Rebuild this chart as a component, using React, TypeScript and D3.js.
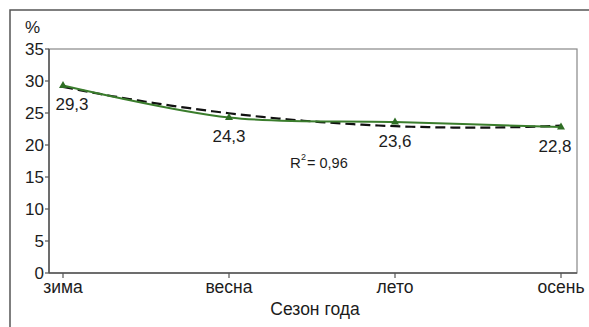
import React from "react";
import * as d3 from "d3";

const seasons = ["зима", "весна", "лето", "осень"];
const values = [29.3, 24.3, 23.6, 22.8];
const yTicks = [0, 5, 10, 15, 20, 25, 30, 35];
const valueLabels = ["29,3", "24,3", "23,6", "22,8"];

// quadratic least-squares trend computed from the data
function quadFit(ys: number[]) {
  const xs = ys.map((_, i) => i + 1);
  const s = [0, 0, 0, 0, 0];
  const t = [0, 0, 0];
  xs.forEach((x, i) => {
    for (let k = 0; k < 5; k++) s[k] += Math.pow(x, k);
    for (let k = 0; k < 3; k++) t[k] += Math.pow(x, k) * ys[i];
  });
  const A = [
    [s[0], s[1], s[2], t[0]],
    [s[1], s[2], s[3], t[1]],
    [s[2], s[3], s[4], t[2]],
  ];
  for (let i = 0; i < 3; i++) {
    for (let j = i + 1; j < 3; j++) {
      const f = A[j][i] / A[i][i];
      for (let k = i; k < 4; k++) A[j][k] -= f * A[i][k];
    }
  }
  const c = [0, 0, 0];
  for (let i = 2; i >= 0; i--) {
    let v = A[i][3];
    for (let k = i + 1; k < 3; k++) v -= A[i][k] * c[k];
    c[i] = v / A[i][i];
  }
  return (x: number) => c[0] + c[1] * x + c[2] * x * x;
}

export default function App() {
  const W = 589, H = 327;
  const left = 49, right = 577, top = 49, bottom = 273;
  const x0 = 63, x1 = 561;
  const x = d3.scaleLinear().domain([1, seasons.length]).range([x0, x1]);
  const y = d3.scaleLinear().domain([0, 35]).range([bottom, top]);
  const pts: [number, number][] = values.map((v, i) => [x(i + 1), y(v)]);
  const line = d3.line().curve(d3.curveCatmullRom.alpha(0.5));
  const trend = quadFit(values);
  const trendPts: [number, number][] = d3.range(1, seasons.length + 0.001, 0.05).map((t) => [x(t), y(trend(t))]);
  const trendLine = d3.line();
  const font = "Arial, 'Liberation Sans', sans-serif";
  const tri = (cx: number, cy: number) => `M${cx},${cy - 4.5}L${cx + 4},${cy + 2.5}L${cx - 4},${cy + 2.5}Z`;
  const labelHalf = 16;
  const tc = "#1c1c1c";
  return (
    <svg width={W} height={H} style={{ position: "absolute", left: 0, top: 0, background: "#fff" }} fontFamily={font}>
      <rect x={0} y={0} width={W} height={H} fill="#fff" />
      <rect x={10} y={10} width={W} height={H} fill="none" stroke="#555" strokeWidth={1.5} />
      <rect x={left} y={top} width={right - left} height={bottom - top} fill="none" stroke="#888" strokeWidth={1.2} />
      <line x1={left} x2={left} y1={top} y2={bottom} stroke="#555" strokeWidth={1.5} />
      <line x1={left} x2={right} y1={bottom} y2={bottom} stroke="#555" strokeWidth={1.5} />
      {yTicks.map((t) => (
        <g key={t}>
          <line x1={left - 4} x2={left} y1={y(t)} y2={y(t)} stroke="#555" strokeWidth={1.2} />
          <text x={44} y={y(t) + 6} textAnchor="end" fontSize={17} fill={tc}>{t}</text>
        </g>
      ))}
      <text x={25} y={33} fontSize={17} fill={tc}>%</text>
      {seasons.map((s, i) => (
        <g key={s}>
          <line x1={x(i + 1)} x2={x(i + 1)} y1={bottom} y2={bottom + 5} stroke="#555" strokeWidth={1.2} />
          <text x={x(i + 1)} y={293} textAnchor="middle" fontSize={17.5} fill={tc}>{s}</text>
        </g>
      ))}
      <text x={315} y={315} textAnchor="middle" fontSize={17.5} fill={tc}>Сезон года</text>
      <path d={trendLine(trendPts) || ""} fill="none" stroke="#111" strokeWidth={2.2} strokeDasharray="10,5" />
      <path d={line(pts) || ""} fill="none" stroke="#3a7d2c" strokeWidth={2} />
      {pts.map((p, i) => (
        <path key={i} d={tri(p[0], p[1])} fill="#2f6e25" />
      ))}
      {pts.map((p, i) => {
        const cx = Math.min(Math.max(p[0], left + 7 + labelHalf), right - 6 - labelHalf);
        return (
          <text key={i} x={cx} y={p[1] + 25} textAnchor="middle" fontSize={17} fill={tc}>{valueLabels[i]}</text>
        );
      })}
      <text x={290} y={168} fontSize={15} fill={tc}>R</text>
      <text x={301} y={160} fontSize={9} fill={tc}>2</text>
      <text x={307} y={168} fontSize={14.5} fill={tc}>= 0,96</text>
    </svg>
  );
}
